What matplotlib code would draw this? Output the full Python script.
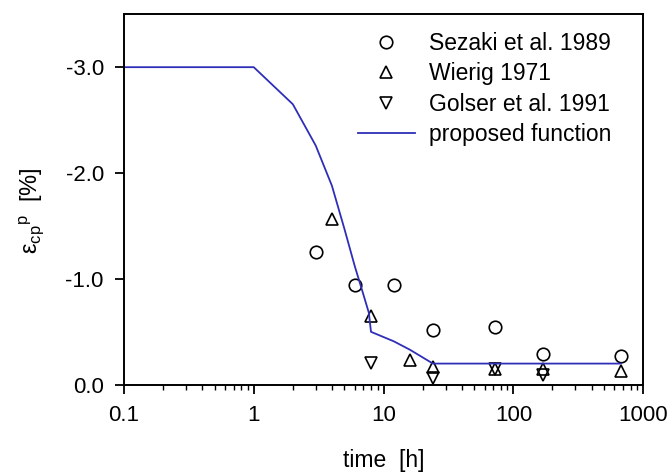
import matplotlib
matplotlib.use('Agg')
import matplotlib.pyplot as plt
from matplotlib.ticker import FixedLocator, FixedFormatter, LogLocator, NullFormatter

plt.rcParams['font.family'] = ['Liberation Sans', 'DejaVu Sans']
plt.rcParams['mathtext.fontset'] = 'custom'
plt.rcParams['mathtext.rm'] = 'Liberation Sans'
plt.rcParams['mathtext.default'] = 'regular'
plt.rcParams['axes.unicode_minus'] = False

# measured data (time in h, strain in %)
sezaki_t = [3, 6, 12, 24, 72, 168, 672]
sezaki_eps = [-1.25, -0.94, -0.94, -0.52, -0.55, -0.29, -0.27]

wierig_t = [4, 8, 16, 24, 72, 168, 672]
wierig_eps = [-1.57, -0.65, -0.23, -0.17, -0.15, -0.15, -0.13]

golser_t = [8, 24, 72, 168]
golser_eps = [-0.21, -0.06, -0.15, -0.09]

# proposed function
func_t = [0.1, 1, 2, 3, 4, 5, 6, 7, 7.7, 8, 12, 16, 24, 672]
func_eps = [-3.0, -3.0, -2.65, -2.26, -1.88, -1.47, -1.12, -0.85, -0.68, -0.5, -0.41, -0.33, -0.2, -0.2]

xticks = [0.1, 1, 10, 100, 1000]
xticklabels = ['0.1', '1', '10', '100', '1000']
yticks = [0.0, -1.0, -2.0, -3.0]
yticklabels = ['0.0', '-1.0', '-2.0', '-3.0']

fig = plt.figure(figsize=(6.7, 4.75), dpi=100)
ax = fig.add_axes([0.185, 0.19, 0.775, 0.78])

mk = dict(linestyle='none', markerfacecolor='none', markeredgecolor='black', markeredgewidth=1.2)
ax.plot(sezaki_t, sezaki_eps, marker='o', markersize=9, label='Sezaki et al. 1989', **mk)
ax.plot(wierig_t, wierig_eps, marker='^', markersize=8.5, label='Wierig 1971', **mk)
ax.plot(golser_t, golser_eps, marker='v', markersize=8.5, label='Golser et al. 1991', **mk)
ax.plot(func_t, func_eps, color='#2e2eb8', linewidth=1.3, label='proposed function')

ax.set_xscale('log')
ax.set_xlim(0.1, 1000)
ax.set_ylim(0.0, -3.5)

ax.xaxis.set_major_locator(FixedLocator(xticks))
ax.xaxis.set_major_formatter(FixedFormatter(xticklabels))
ax.xaxis.set_minor_locator(LogLocator(base=10, subs=range(2, 10), numticks=20))
ax.xaxis.set_minor_formatter(NullFormatter())
ax.yaxis.set_major_locator(FixedLocator(yticks))
ax.yaxis.set_major_formatter(FixedFormatter(yticklabels))

for s in ax.spines.values():
    s.set_linewidth(1.4)
ax.tick_params(which='major', direction='out', length=6.5, width=1.3, labelsize=16, pad=8)
ax.tick_params(which='minor', direction='out', length=3.5, width=1.0)

ax.set_xlabel('time  [h]', fontsize=16.5, labelpad=17)
ax.set_ylabel(r'$\varepsilon_{cp}{}^{p}$  [%]', fontsize=17, labelpad=14)
ax.yaxis.set_label_coords(-0.15, 0.47)

ax.legend(loc='upper right', bbox_to_anchor=(0.956, 0.978), frameon=False, fontsize=16.5,
          handlelength=2.5, handletextpad=0.6, labelspacing=0.33, borderaxespad=0.0)

fig.savefig('out.png', dpi=100)
